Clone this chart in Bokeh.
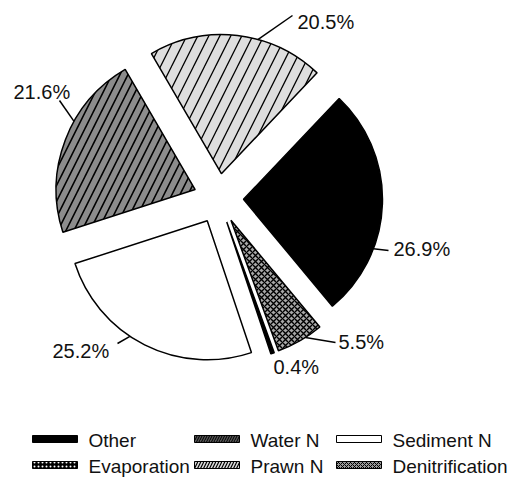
import math
from bokeh.plotting import figure
from bokeh.models import Range1d
from bokeh.embed import file_html
from bokeh.resources import INLINE
from bokeh.core.properties import value

# ---- data ----
categories = ["Other", "Denitrification", "Evaporation", "Sediment N", "Water N", "Prawn N"]
shares = [26.9, 5.5, 0.4, 25.2, 21.6, 20.5]
legend_columns = [["Other", "Evaporation"], ["Water N", "Prawn N"], ["Sediment N", "Denitrification"]]

# ---- layout / style ----
W, H = 518, 477
def Y(py):  # page pixel row -> data y
    return H - py

CX, CY = 218, Y(198)
R = 139
EXPLODE = 25
START = 46.5
FONT = "Liberation Sans"

styles = {
    "Other": dict(fill_color="black"),
    "Denitrification": dict(fill_color="#a8a8a8", hatch_pattern="diagonal_cross",
                            hatch_color="black", hatch_scale=6, hatch_weight=1.4),
    "Evaporation": dict(fill_color="black"),
    "Sediment N": dict(fill_color="white"),
    "Water N": dict(fill_color="#8c8c8c", hatch_pattern="right_diagonal_line",
                    hatch_color="black", hatch_scale=16, hatch_weight=1.6),
    "Prawn N": dict(fill_color="#dedede", hatch_pattern="right_diagonal_line",
                    hatch_color="black", hatch_scale=22, hatch_weight=1.3),
}
legend_styles = {
    "Other": dict(fill_color="black"),
    "Evaporation": dict(fill_color="black", hatch_pattern="dot", hatch_color="white",
                        hatch_scale=4, hatch_weight=1),
    "Water N": dict(fill_color="#555555", hatch_pattern="right_diagonal_line",
                    hatch_color="black", hatch_scale=5, hatch_weight=1),
    "Prawn N": dict(fill_color="#dddddd", hatch_pattern="right_diagonal_line",
                    hatch_color="black", hatch_scale=6, hatch_weight=1.2),
    "Sediment N": dict(fill_color="white"),
    "Denitrification": dict(fill_color="#999999", hatch_pattern="diagonal_cross",
                            hatch_color="black", hatch_scale=4, hatch_weight=1),
}
# label placement: arc attach angle (deg), leader end, text left / vertical centre (page px)
label_layout = {
    "Other": dict(attach=-20.8, end=(388, 250), text=(393, 248)),
    "Denitrification": dict(attach=-57.6, end=(335, 342), text=(338, 341.5)),
    "Evaporation": dict(attach=None, end=None, text=(273, 366.5)),
    "Sediment N": dict(attach=-123.8, end=(117, 343), text=(52, 350)),
    "Water N": dict(attach=150.6, end=(59, 100), text=(13, 91.5)),
    "Prawn N": dict(attach=74.8, end=(292, 15), text=(297, 21)),
}
legend_col_x = [32, 194, 336]
legend_text_x = [88, 250, 392]
legend_row_mid = [439.5, 466]
legend_swatch_mid = [438.5, 464.5]
SW_W, SW_H = 45, 7

p = figure(width=W, height=H, x_range=Range1d(0, W), y_range=Range1d(0, H),
           output_backend="svg", toolbar_location=None, min_border=0,
           x_axis_type=None, y_axis_type=None)
p.grid.visible = False
p.outline_line_color = None
p.background_fill_color = "white"

total = sum(shares)
a = START
for cat, v in zip(categories, shares):
    span = 360.0 * v / total
    hi, lo = a, a - span
    mid = math.radians((hi + lo) / 2)
    ox = CX + EXPLODE * math.cos(mid)
    oy = CY + EXPLODE * math.sin(mid)
    p.wedge(x=ox, y=oy, radius=R, start_angle=math.radians(lo), end_angle=math.radians(hi),
            direction="anticlock", line_color="black", line_width=1.5, **styles[cat])
    lay = label_layout[cat]
    if lay["attach"] is not None:
        t = math.radians(lay["attach"])
        ax, ay = ox + R * math.cos(t), oy + R * math.sin(t)
        p.line(x=[ax, lay["end"][0]], y=[ay, Y(lay["end"][1])], line_color="black", line_width=1.5)
    p.text(x=[lay["text"][0]], y=[Y(lay["text"][1])], text=[f"{v:.1f}%"],
           text_font=value(FONT), text_font_size="20px", text_color="#111111",
           text_align="left", text_baseline="middle")
    a = lo

for ci, col in enumerate(legend_columns):
    for ri, cat in enumerate(col):
        p.rect(x=legend_col_x[ci] + SW_W / 2, y=Y(legend_swatch_mid[ri]), width=SW_W, height=SW_H,
               line_color="black", line_width=1, **legend_styles[cat])
        p.text(x=[legend_text_x[ci]], y=[Y(legend_row_mid[ri])], text=[cat], text_font=value(FONT),
               text_font_size="19px", text_color="#111111", text_align="left",
               text_baseline="middle")

open("out.html", "w").write(file_html(p, INLINE))
